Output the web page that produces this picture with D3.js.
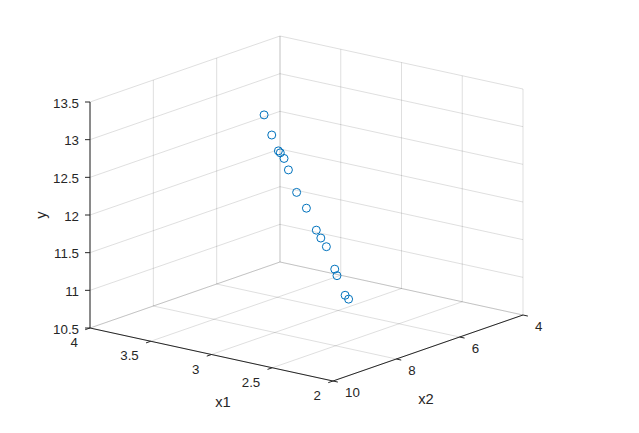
<!DOCTYPE html>
<html>
<head>
<meta charset="utf-8">
<script src="https://cdn.jsdelivr.net/npm/d3@7"></script>
<style>
  html, body { margin: 0; padding: 0; background: #fff; }
  svg { display: block; }
  text { font-family: "Liberation Sans", Arial, Helvetica, sans-serif; fill: #262626; }
</style>
</head>
<body>
<svg id="chart" width="639" height="433"></svg>
<script>
// ---- data ----
const x1 = [3.25, 2.71, 3.63, 2.77, 3.25, 3.73, 2.44, 3.29, 2.69, 3.32, 2.19, 2.95, 2.34, 3.00, 2.63];
const x2 = [7.38, 9.21, 5.47, 8.71, 6.75, 4.77, 9.46, 5.89, 7.88, 5.32, 9.48, 6.30, 8.57, 5.78, 7.09];
const y  = [13.21, 13.40, 12.32, 13.07, 12.54, 11.93, 12.77, 11.74, 11.95, 11.25, 12.14, 11.11, 11.57, 10.67, 10.94];

const x1Ticks = [2, 2.5, 3, 3.5, 4];
const x1TickLabels = ["2", "2.5", "3", "3.5", "4"];
const x2Ticks = [4, 6, 8, 10];
const x2TickLabels = ["4", "6", "8", "10"];
const yTicks = [10.5, 11, 11.5, 12, 12.5, 13, 13.5];
const yTickLabels = ["10.5", "11", "11.5", "12", "12.5", "13", "13.5"];

// ---- projection (layout) ----
const origin = {x: 333, y: 381};          // front-bottom corner (x1=2, x2=10, y=10.5)
const U = {x: -243, y: -53};               // x1 axis direction
const V = {x: 190, y: -66};                // x2 axis direction
const W = {x: 0, y: -226};                 // y axis direction

const s1 = d3.scaleLinear().domain([2, 4]).range([0, 1]);
const s2 = d3.scaleLinear().domain([10, 4]).range([0, 1]);
const s3 = d3.scaleLinear().domain([10.5, 13.5]).range([0, 1]);

function P(a, b, c) {
  const u = s1(a), v = s2(b), w = s3(c);
  return [origin.x + u * U.x + v * V.x + w * W.x,
          origin.y + u * U.y + v * V.y + w * W.y];
}

const svg = d3.select("#chart");
const gridColor = "#262626";
const gridOpacity = 0.15;

const grid = svg.append("g")
  .attr("stroke", gridColor).attr("stroke-opacity", gridOpacity)
  .attr("stroke-width", 1).attr("fill", "none");

function seg(g, p, q) {
  return g.append("line").attr("x1", p[0]).attr("y1", p[1]).attr("x2", q[0]).attr("y2", q[1]);
}

const x1d = s1.domain(), x2d = s2.domain(), yd = s3.domain();
// floor (y = min)
x1Ticks.forEach(t => seg(grid, P(t, x2d[0], yd[0]), P(t, x2d[1], yd[0])));
x2Ticks.forEach(t => seg(grid, P(x1d[0], t, yd[0]), P(x1d[1], t, yd[0])));
// back-left wall (x1 = 4)
x2Ticks.forEach(t => seg(grid, P(x1d[1], t, yd[0]), P(x1d[1], t, yd[1])));
yTicks.forEach(t => seg(grid, P(x1d[1], x2d[0], t), P(x1d[1], x2d[1], t)));
// back-right wall (x2 = 4)
x1Ticks.forEach(t => seg(grid, P(t, x2d[1], yd[0]), P(t, x2d[1], yd[1])));
yTicks.forEach(t => seg(grid, P(x1d[0], x2d[1], t), P(x1d[1], x2d[1], t)));

// ---- axes ----
const axes = svg.append("g").attr("stroke", "#262626").attr("stroke-width", 1).attr("fill", "none");
const tickLen = 5;
function unit(v) { const n = Math.hypot(v.x, v.y); return {x: v.x / n, y: v.y / n}; }
const uU = unit(U), uV = unit(V);

// x1 axis (x2 = 10, y = 10.5)
seg(axes, P(x1d[0], x2d[0], yd[0]), P(x1d[1], x2d[0], yd[0]));
x1Ticks.forEach(t => {
  const p = P(t, x2d[0], yd[0]);
  seg(axes, p, [p[0] - uV.x * tickLen, p[1] - uV.y * tickLen]);
});
// x2 axis (x1 = 2, y = 10.5)
seg(axes, P(x1d[0], x2d[0], yd[0]), P(x1d[0], x2d[1], yd[0]));
x2Ticks.forEach(t => {
  const p = P(x1d[0], t, yd[0]);
  seg(axes, p, [p[0] - uU.x * tickLen, p[1] - uU.y * tickLen]);
});
// y axis (x1 = 4, x2 = 10)
seg(axes, P(x1d[1], x2d[0], yd[0]), P(x1d[1], x2d[0], yd[1]));
yTicks.forEach(t => {
  const p = P(x1d[1], x2d[0], t);
  seg(axes, p, [p[0] - tickLen, p[1]]);
});

// ---- tick labels ----
const labels = svg.append("g").attr("font-size", 13.3);
x1Ticks.forEach((t, i) => {
  const p = P(t, x2d[0], yd[0]);
  labels.append("text").attr("x", p[0] - 12).attr("y", p[1] + 14.5)
    .attr("text-anchor", "end").attr("dominant-baseline", "central").text(x1TickLabels[i]);
});
x2Ticks.forEach((t, i) => {
  const p = P(x1d[0], t, yd[0]);
  labels.append("text").attr("x", p[0] + 12).attr("y", p[1] + 11)
    .attr("text-anchor", "start").attr("dominant-baseline", "central").text(x2TickLabels[i]);
});
yTicks.forEach((t, i) => {
  const p = P(x1d[1], x2d[0], t);
  labels.append("text").attr("x", p[0] - 11).attr("y", p[1] + 1)
    .attr("text-anchor", "end").attr("dominant-baseline", "central").text(yTickLabels[i]);
});

// ---- axis labels ----
const alab = svg.append("g").attr("font-size", 14.7).attr("text-anchor", "middle").attr("dominant-baseline", "central");
alab.append("text").attr("x", 223).attr("y", 402).text("x1");
alab.append("text").attr("x", 426).attr("y", 399).text("x2");
alab.append("text").attr("transform", "translate(41,215) rotate(-90)").text("y");

// ---- points ----
const pts = x1.map((d, i) => P(d, x2[i], y[i]));
svg.append("g").selectAll("circle").data(pts).join("circle")
  .attr("cx", d => d[0]).attr("cy", d => d[1]).attr("r", 4)
  .attr("fill", "none").attr("stroke", "#0072BD").attr("stroke-width", 1);
</script>
</body>
</html>
